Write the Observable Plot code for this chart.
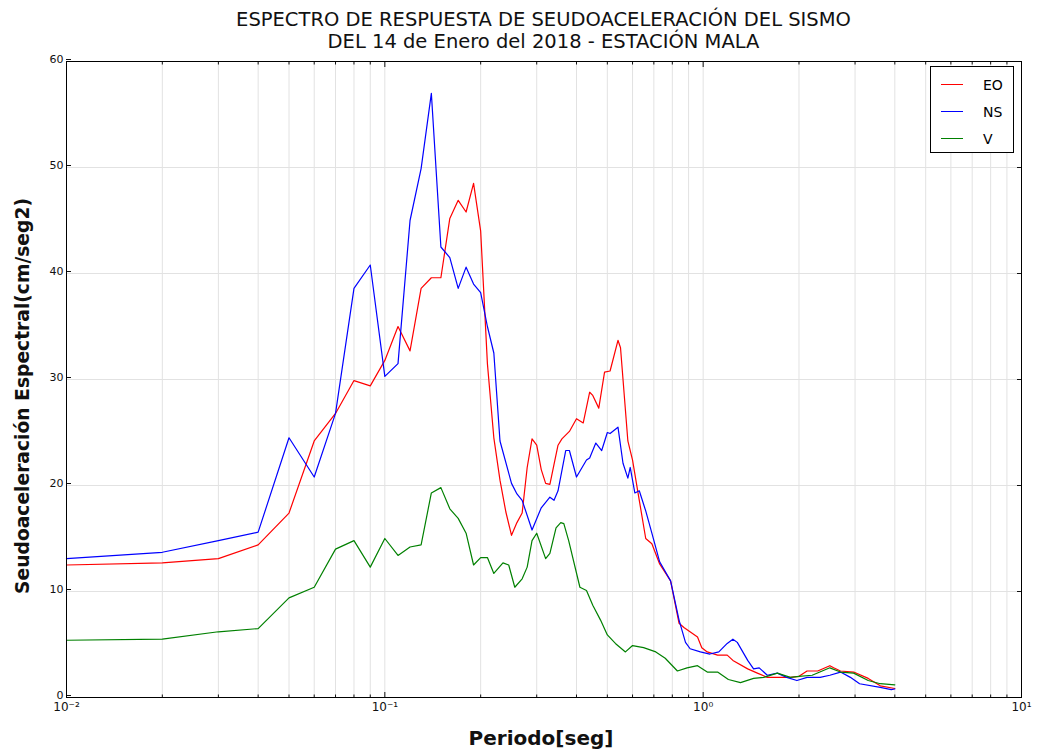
<!DOCTYPE html>
<html>
<head>
<meta charset="utf-8">
<script src="https://cdn.jsdelivr.net/npm/d3@7"></script>
<script src="https://cdn.jsdelivr.net/npm/@observablehq/plot@0.6"></script>
<style>
  body { margin: 0; background: #fff; }
  #wrap { position: relative; width: 1038px; height: 756px; font-family: "DejaVu Sans", sans-serif; color: #000; }
  .tl { position: absolute; left: 66px; width: 955px; text-align: center; font-size: 19.5px; line-height: 20px; color: #111; white-space: nowrap; }
  #chart { position: absolute; top: 48px; left: 0; }
  #ylabel { position: absolute; left: 22px; top: 396px; transform: translate(-50%, -50%) rotate(-90deg); white-space: nowrap; font-weight: bold; font-size: 18.7px; color: #111; }
  #xlabel { position: absolute; left: 541px; top: 738px; transform: translate(-50%, -50%); white-space: nowrap; font-weight: bold; font-size: 20px; color: #111; }
  #legend { position: absolute; left: 930px; top: 66px; width: 84px; height: 87px; border: 1px solid #000; background: #fff; box-sizing: border-box; font-size: 14px; }
  .li { position: absolute; left: 0; height: 20px; width: 100%; }
  .li .sw { position: absolute; left: 10px; top: 9px; width: 22px; height: 0; border-top: 1.3px solid; }
  .li .tx { position: absolute; left: 52px; top: 0; line-height: 20px; }
</style>
</head>
<body>
<div id="wrap">
  <div class="tl" style="top:10px">ESPECTRO DE RESPUESTA DE SEUDOACELERACIÓN DEL SISMO</div>
  <div class="tl" style="top:32px">DEL 14 de Enero del 2018 - ESTACIÓN MALA</div>
  <div id="chart"></div>
  <div id="ylabel">Seudoaceleración Espectral(cm/seg2)</div>
  <div id="xlabel">Periodo[seg]</div>
  <div id="legend"></div>
</div>
<script>
// ---- Data (periods in seconds, spectral pseudo-acceleration in cm/s2) ----
const eoPeriod = [0.01,0.02,0.03,0.04,0.05,0.06,0.07,0.08,0.09,0.10,0.11,0.12,0.13,0.14,0.15,0.16,0.17,0.18,0.19,0.20,0.21,0.22,0.23,0.24,0.25,0.26,0.27,0.28,0.29,0.30,0.31,0.32,0.33,0.34,0.35,0.36,0.38,0.40,0.42,0.44,0.45,0.47,0.49,0.51,0.54,0.55,0.58,0.60,0.63,0.66,0.69,0.73,0.79,0.84,0.87,0.96,0.99,1.03,1.11,1.19,1.24,1.38,1.48,1.59,1.76,1.88,2.0,2.12,2.29,2.5,2.57,2.7,2.97,3.3,3.6,4.0];
const eoValue  = [12.5,12.7,13.1,14.4,17.4,24.2,26.8,29.9,29.4,31.8,35.0,32.7,38.6,39.6,39.6,45.2,46.9,45.8,48.5,44.0,31.5,24.5,20.5,17.5,15.3,16.5,17.4,21.7,24.4,23.8,21.5,20.2,20.1,22.0,23.8,24.4,25.1,26.3,25.9,28.8,28.5,27.3,30.7,30.8,33.7,33.0,24.2,22.4,18.6,15.0,14.5,12.6,11.0,7.0,6.6,5.7,4.7,4.3,4.0,4.0,3.5,2.7,2.3,1.9,1.9,1.9,2.0,2.5,2.5,3.0,2.8,2.5,2.4,1.8,1.1,0.85];

const nsPeriod = [0.01,0.02,0.03,0.04,0.05,0.06,0.07,0.08,0.09,0.10,0.11,0.12,0.13,0.14,0.15,0.16,0.17,0.18,0.19,0.20,0.21,0.22,0.23,0.25,0.26,0.27,0.29,0.31,0.33,0.34,0.35,0.37,0.38,0.40,0.43,0.44,0.46,0.48,0.50,0.51,0.54,0.56,0.58,0.59,0.61,0.63,0.66,0.69,0.73,0.79,0.84,0.88,0.91,0.98,1.05,1.12,1.19,1.24,1.28,1.38,1.44,1.50,1.59,1.71,1.83,1.97,2.12,2.33,2.5,2.7,2.9,3.1,3.6,3.9,4.0];
const nsValue  = [13.1,13.7,14.8,15.6,24.5,20.8,26.8,38.6,40.8,30.3,31.5,45.0,49.9,57.0,42.5,41.5,38.6,40.6,39.0,38.2,35.0,32.5,24.2,20.2,19.2,18.6,15.8,17.9,18.9,18.6,19.5,23.3,23.3,20.8,22.4,22.6,24.0,23.3,25.0,24.9,25.5,22.1,20.7,21.7,19.3,19.5,17.6,15.5,12.8,11.0,7.3,5.2,4.6,4.3,4.1,4.3,5.1,5.5,5.2,3.5,2.7,2.8,2.1,2.3,1.9,1.6,1.9,1.9,2.1,2.4,1.9,1.3,0.95,0.75,0.8];

const vPeriod  = [0.01,0.02,0.03,0.04,0.05,0.06,0.07,0.08,0.09,0.10,0.11,0.12,0.13,0.14,0.15,0.16,0.17,0.18,0.19,0.20,0.21,0.22,0.235,0.245,0.256,0.27,0.28,0.29,0.30,0.32,0.33,0.345,0.357,0.365,0.378,0.41,0.43,0.45,0.476,0.50,0.53,0.57,0.60,0.65,0.71,0.76,0.83,0.89,0.96,1.03,1.11,1.2,1.31,1.44,1.55,1.71,1.88,2.0,2.2,2.5,2.7,2.97,3.3,3.6,4.0];
const vValue   = [5.4,5.5,6.2,6.5,9.4,10.4,14.0,14.8,12.3,15.0,13.4,14.2,14.4,19.3,19.8,17.8,16.9,15.5,12.5,13.2,13.2,11.7,12.7,12.5,10.4,11.2,12.3,14.8,15.5,13.1,13.6,16.0,16.5,16.4,14.8,10.4,10.1,8.7,7.3,5.9,5.1,4.3,4.9,4.7,4.3,3.7,2.5,2.8,3.0,2.4,2.4,1.7,1.4,1.8,1.9,2.3,1.9,2.0,2.1,2.8,2.4,2.3,1.6,1.3,1.2];

const seriesNames  = ["EO", "NS", "V"];
const seriesColors = ["#ff0000", "#0000ff", "#008000"];

const xMajorTicks = [0.01, 0.1, 1, 10];
const xMajorLabels = ["10⁻²", "10⁻¹", "10⁰", "10¹"];
const yTicks = [0, 10, 20, 30, 40, 50, 60];

// ---- Build ----
const toRows = (name, T, V) => T.map((t, i) => ({series: name, T: t, A: V[i]}));
const rows = [
  ...toRows("EO", eoPeriod, eoValue),
  ...toRows("NS", nsPeriod, nsValue),
  ...toRows("V", vPeriod, vValue)
];
const xMinorTicks = [];
for (const base of [0.01, 0.1, 1]) for (let k = 2; k <= 9; k++) xMinorTicks.push(+(base * k).toPrecision(3));
const xAllTicks = [...xMajorTicks, ...xMinorTicks];
const labelOf = v => xMajorLabels[xMajorTicks.indexOf(v)] ?? "";

const chart = Plot.plot({
  width: 1038,
  height: 708,
  marginLeft: 66,
  marginRight: 17,
  marginTop: 13,
  marginBottom: 59,
  style: {fontFamily: "DejaVu Sans, sans-serif", fontSize: "12px", background: "#fff", color: "#111"},
  x: {type: "log", domain: [0.01, 10]},
  y: {domain: [0, 60]},
  color: {domain: seriesNames, range: seriesColors},
  marks: [
    Plot.gridX(xAllTicks, {stroke: "#e2e2e2", strokeOpacity: 1, strokeWidth: 1}),
    Plot.gridY(yTicks, {stroke: "#e2e2e2", strokeOpacity: 1, strokeWidth: 1}),
    Plot.line(rows, {x: "T", y: "A", z: "series", stroke: "series", strokeWidth: 1.2}),
    Plot.axisX({anchor: "bottom", ticks: xMajorTicks, tickSize: -5, tickPadding: 10, tickFormat: labelOf, label: null, fontSize: 12}),
    Plot.axisX({anchor: "bottom", ticks: xMinorTicks, tickSize: -2.5, tickFormat: () => "", label: null}),
    Plot.axisX({anchor: "top", ticks: xMajorTicks, tickSize: -5, tickFormat: () => "", label: null}),
    Plot.axisX({anchor: "top", ticks: xMinorTicks, tickSize: -2.5, tickFormat: () => "", label: null}),
    Plot.axisY({anchor: "left", ticks: yTicks, tickSize: -5, tickPadding: 8, dy: -2, label: null, fontSize: 11}),
    Plot.axisY({anchor: "right", ticks: yTicks, tickSize: -5, tickFormat: () => "", label: null}),
    Plot.frame({stroke: "#000", strokeWidth: 1})
  ]
});
document.getElementById("chart").appendChild(chart);

const legend = document.getElementById("legend");
seriesNames.forEach((name, i) => {
  const el = document.createElement("div");
  el.className = "li";
  el.style.top = (8 + i * 27) + "px";
  el.innerHTML = `<div class="sw" style="border-color:${seriesColors[i]}"></div><div class="tx">${name}</div>`;
  legend.appendChild(el);
});
</script>
</body>
</html>
